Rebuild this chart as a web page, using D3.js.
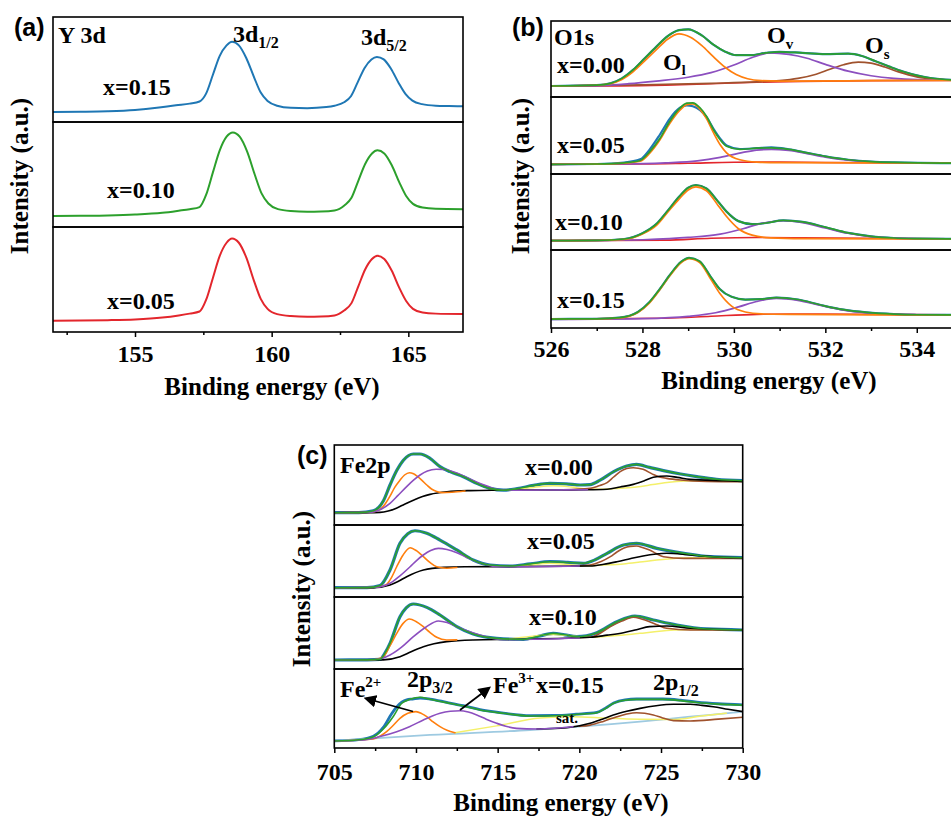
<!DOCTYPE html>
<html><head><meta charset="utf-8">
<script src="https://cdn.jsdelivr.net/npm/d3@7"></script>
<style>
body{margin:0;background:#fff}
svg{display:block}
text{font-family:"Liberation Serif","Times New Roman",serif;font-weight:bold;fill:#000}
.plab{font-family:"Liberation Sans",Arial,sans-serif}
</style>
</head><body>
<svg id="chart" width="951" height="818"></svg>
<script>
// ---------------- Panel (a): Y 3d ----------------
const aTicks = [155, 160, 165];
const aMinorTicks = [152.5, 157.5, 162.5];
const aDomain = [152, 167];
const aLabels = ["x=0.15", "x=0.10", "x=0.05"];
const aY015 = [[152,9.5],[153,9.8],[154,10.3],[155,11.5],[155.8,13.5],[156.5,16],[157.0,17.5],[157.36,19.5],[157.6,27],[157.85,45],[158.1,63],[158.35,73],[158.55,76.5],[158.8,73],[159.07,61],[159.35,43],[159.6,28],[159.85,20],[160.2,15.5],[160.7,13.5],[161.3,13.2],[162.0,14.2],[162.3,15.5],[162.65,18.8],[162.9,24.5],[163.15,38],[163.4,51.5],[163.65,59.6],[163.85,62],[164.1,59.6],[164.37,50.5],[164.65,37],[164.9,26.5],[165.15,20.3],[165.5,17],[166,15.5],[166.5,15.2],[167,15]];
const aY010 = [[152,10.5],[153,10.7],[154,11],[155,11.8],[156,13.5],[156.6,15.5],[157.0,17],[157.36,19],[157.6,30.5],[157.85,52],[158.1,73],[158.35,86],[158.58,90],[158.83,86],[159.1,72],[159.38,50],[159.63,32],[159.88,22.4],[160.23,17],[160.7,15.2],[161.3,14.6],[161.8,14.8],[162.3,15.8],[162.67,20.8],[162.92,27.8],[163.17,44],[163.42,60],[163.67,70],[163.87,73],[164.12,70],[164.39,59],[164.67,42.5],[164.92,29.5],[165.17,22],[165.52,18.5],[166,17.3],[167,17]];
const aY005 = [[152,10.8],[153,11],[154,11.3],[155,12],[156,13.8],[156.6,15.8],[157.0,17.5],[157.36,19.5],[157.6,30.5],[157.85,51.5],[158.1,72.5],[158.35,85],[158.55,89],[158.8,85],[159.07,71],[159.35,49],[159.6,31.5],[159.85,22],[160.2,17],[160.7,15.2],[161.3,14.6],[161.8,14.8],[162.3,15.8],[162.65,20.5],[162.92,27.5],[163.17,43.5],[163.42,59.5],[163.67,69.5],[163.87,72.7],[164.12,69.5],[164.39,58.5],[164.67,42],[164.92,29.5],[165.17,22],[165.52,18.5],[166,17.5],[167,17.1]];

// ---------------- Panel (b): O1s ----------------
const bTicks = [526, 528, 530, 532, 534];
const bMinorTicks = [527, 529, 531, 533];
const bDomain = [526, 535];
const bLabels = ["x=0.00", "x=0.05", "x=0.10", "x=0.15"];
const b000Base = [[526,14.5],[527.5,14.6],[528.5,15.5],[529.5,17.5],[530.5,19.5],[531.5,20.5],[533,21.5],[535,22]];
const b000OL = [[526,14.5],[527.05,15.8],[527.3,17.5],[527.55,23],[527.8,33.5],[528.05,47.5],[528.3,62],[528.55,76],[528.8,83],[529.05,78.5],[529.3,67.5],[529.55,53],[529.8,39.5],[530.05,29.5],[530.3,24],[530.6,21.5],[531,20.8],[533,21.5],[535,22]];
const b000OV = [[526,14.5],[527,15],[527.7,17.5],[528.3,21],[529,26],[529.5,32],[530,42],[530.4,52],[530.8,58],[531.2,56],[531.6,51],[532,43],[532.5,34],[533,28],[533.5,24.5],[534,23],[535,22.3]];
const b000OS = [[526,14.5],[528,16],[529.5,18],[530.5,19.8],[531,21.5],[531.4,24.5],[531.8,30],[532.1,36.5],[532.4,42.5],[532.72,46],[533,44.5],[533.3,39.5],[533.6,33],[534,26.5],[534.4,23.5],[535,22]];
const b000Env = [[526,14.5],[527,15.5],[527.3,18],[527.55,24.5],[527.8,36],[528.05,51],[528.3,66],[528.55,80],[528.8,88],[529.0,89],[529.3,81],[529.55,69],[529.8,60],[530.05,55],[530.35,55],[530.7,58],[531.0,59.5],[531.5,58],[532.0,56.5],[532.5,57],[532.8,54],[533.1,47],[533.4,40],[533.7,33.5],[534,28.5],[534.3,25],[534.75,22.5],[535,22]];
const b005Base = [[526,12.6],[528,13],[529,14],[530,15.2],[531,15.5],[532,15],[535,14]];
const b005OL = [[526,12.6],[527,12.8],[527.6,14],[527.95,16.5],[528.16,27],[528.38,44],[528.6,66],[528.82,83],[528.97,90],[529.1,91],[529.26,84],[529.4,72],[529.55,54],[529.7,38],[529.84,27.5],[530.13,18.5],[530.5,15.5],[531,14.8],[535,14]];
const b005OV = [[526,12.6],[527.5,13],[528.5,14.5],[529.2,17],[529.7,21.5],[530.2,28],[530.5,31],[530.82,32],[531.2,30.5],[531.6,26.5],[532,22],[532.5,18],[533,15.5],[533.5,14.5],[535,14]];
const b005Env = [[526,12.6],[527,13],[527.6,14.5],[527.95,17.5],[528.16,29],[528.38,46],[528.6,68.5],[528.82,85.5],[528.97,92],[529.1,92.5],[529.26,86],[529.4,75],[529.55,58],[529.7,44.5],[529.84,36],[530.13,32],[530.5,33.5],[530.82,34],[531.2,32],[531.6,27.5],[532,23],[532.5,18.5],[533,16],[533.5,15],[535,14]];
const b005Raw = [[526,12.6],[527,13],[527.6,14.8],[527.95,19],[528.16,32],[528.38,51],[528.6,72],[528.82,86],[528.97,89],[529.1,88],[529.26,83],[529.4,74],[529.55,59],[529.7,46],[529.84,37],[530.13,32.5],[530.5,33.5],[530.82,34.5],[531.2,32],[531.6,27.5],[532,23],[532.5,18.5],[533,16],[533.5,15],[535,14]];
const b010Base = [[526,12.3],[528.5,13],[529.5,15.5],[530.5,16.5],[531.5,16],[535,14.5]];
const b010OL = [[526,12.3],[527,12.5],[527.6,14],[528.0,21],[528.3,32],[528.53,48],[528.8,67],[529.0,79],[529.17,83],[529.4,78],[529.65,59],[529.84,44],[530.1,28],[530.4,19.5],[530.8,16],[531.5,15],[535,14.5]];
const b010OV = [[526,12],[527,12.5],[528,13.5],[529,16.5],[529.7,21],[530.2,28],[530.6,35],[531.08,38.5],[531.5,36],[532,29],[532.5,22],[533,17.5],[533.5,15.5],[534,14.8],[535,14.5]];
const b010Env = [[526,12.3],[527,12.7],[527.6,14.5],[528,22],[528.3,34],[528.53,50],[528.8,70],[529,82],[529.17,85.5],[529.4,81],[529.65,64],[529.84,50.5],[530.1,38],[530.4,34],[530.7,35.5],[531.08,39],[531.5,37],[532,30],[532.5,22.5],[533,18],[533.5,15.8],[534,15],[535,14.5]];
const b015Base = [[526,11.5],[528.5,12.5],[529.5,15],[530.5,17.5],[531.5,18],[535,16.7]];
const b015OL = [[526,11.5],[527,11.8],[527.5,13],[527.9,20],[528.15,32],[528.38,49],[528.6,67],[528.85,84],[529.02,89],[529.25,84],[529.5,62],[529.69,44.5],[529.95,28],[530.25,20.5],[530.6,18],[531.2,17.5],[535,16.7]];
const b015OV = [[526,11],[527,11.2],[528,12],[529,15],[529.6,19.5],[530.1,27],[530.5,34],[530.93,38],[531.4,35.5],[531.9,29],[532.4,23],[532.9,19.5],[533.5,17.5],[534,17],[535,16.7]];
const b015Env = [[526,11.5],[527,11.8],[527.5,13.2],[527.9,20.5],[528.15,33],[528.38,50],[528.6,68],[528.85,85],[529.02,90],[529.25,85.5],[529.5,65],[529.69,50],[529.95,40],[530.25,36.5],[530.6,37],[530.93,39],[531.4,36.5],[531.9,29.5],[532.4,23.5],[532.9,20],[533.5,17.8],[534,17],[535,16.7]];

// ---------------- Panel (c): Fe2p ----------------
const cTicks = [705, 710, 715, 720, 725, 730];
const cMinorTicks = [707.5, 712.5, 717.5, 722.5, 727.5];
const cDomain = [705, 730];
const cLabels = ["x=0.00", "x=0.05", "x=0.10", "x=0.15"];
const c000Env = [[705,15.4],[706.5,15.5],[707.39,17.9],[708.0,30],[708.41,50],[708.82,68],[709.23,81],[709.84,88.75],[710.25,88.75],[710.86,83.3],[711.47,73],[712.08,66.7],[712.9,60.4],[713.72,52],[714.53,45.8],[715.35,43.5],[716.2,45.5],[717.2,49.5],[718.2,52],[719.2,51.5],[720.05,50],[720.66,50.5],[721.27,56],[722.1,66.7],[722.9,73.75],[723.5,75.8],[724.3,72],[725.15,68],[726.2,63.75],[727.2,60.4],[728.4,57.1],[730,55.4]];
const c000OL = [[705,15.4],[707,15.6],[707.5,17],[707.8,19.5],[708.1,26],[708.41,36],[708.7,47],[709.02,56],[709.3,62.5],[709.6,65.4],[709.85,64],[710.05,61.3],[710.35,56],[710.66,50],[710.95,45],[711.27,42],[711.6,40.5],[712.2,41],[713,42.5]];
const c000OV = [[705,15.4],[707,15.6],[707.6,17.5],[708.41,27],[708.9,37],[709.43,48],[709.85,56],[710.25,62.5],[710.7,67.5],[711.23,69.6],[711.65,69.5],[712.08,67.9],[712.5,65],[712.9,61.25],[713.4,56.5],[713.92,52],[714.44,48],[714.94,44.6],[715.76,43.5],[718,43.8],[720.5,44]];
const c000Bg = [[705,15.4],[707,15.5],[707.8,15.8],[708.3,17.5],[708.8,21],[709.3,26],[709.84,31],[710.4,35.5],[710.86,38.3],[711.9,41.6],[713.3,43],[715,43.5],[718,43.8],[720.5,44],[721.7,44.6],[722.5,47.5],[723.3,50.8],[724,55.5],[724.53,59.6],[725.35,61.2],[726,59.5],[726.78,57],[728.8,55.4],[730,54.5]];
const c000Sat = [[714.5,43.5],[716,44.5],[717.2,47],[718.4,49],[719.5,47.5],[720.5,45],[721.5,44.8],[722.5,46],[723.5,47.5],[724.5,50.5],[725.5,53.5],[726.5,55],[727.5,55.5],[730,55]];
const c000P12 = [[719,44],[720.66,45.8],[721.2,49],[721.7,53],[722.1,60],[722.5,66.7],[722.9,70.5],[723.3,71.6],[723.9,69.6],[724.5,63.3],[724.9,60],[725.35,58.3],[726.2,56.25],[727.8,54.5],[730,54]];
const c005Env = [[705,12.9],[707,13],[707.8,16],[708.41,37.5],[709.02,74.6],[709.5,88],[709.94,92],[710.66,88.5],[711.47,79],[712.5,65.3],[713.5,51.4],[714.53,44.4],[715.76,43],[717,46],[718.2,49],[719.3,48],[720.25,46.8],[721.0,52],[721.7,60.7],[722.7,72.2],[723.5,74.6],[724.74,67.6],[726.4,60.7],[728,56],[730,54.6]];
const c005OL = [[705,12.9],[707.3,13.2],[707.8,14.5],[708.2,17.5],[708.5,27],[708.82,42],[709.2,58],[709.64,68.5],[710.05,64],[710.45,56],[710.85,48],[711.27,42],[711.88,40],[712.5,41]];
const c005OV = [[705,12.9],[707.5,13.5],[708.41,19],[709.0,29],[709.64,42],[710.05,51],[710.45,58.3],[710.9,64.5],[711.37,67.6],[711.9,66],[712.5,61.5],[713.1,55],[713.72,49],[714.3,45],[714.94,42],[716,42],[720,43]];
const c005Bg = [[705,12.9],[707.39,12.9],[708.41,16.7],[708.9,21.5],[709.43,28.2],[710.45,37.5],[711.68,41.2],[713,42],[716,42.2],[720.66,43],[721.5,45.5],[722.3,49],[723.1,53],[723.9,57],[725.35,60.7],[726.8,58.3],[728.8,55],[730,54.6]];
const c005Sat = [[715.76,42],[717,44.5],[718.2,46.8],[719.3,45],[720.25,43.5],[721.5,44.5],[722.7,46],[723.7,48.5],[724.74,51.4],[725.8,53.5],[726.8,54.6],[730,54.6]];
const c005P12 = [[719.5,43],[720.66,44.4],[721.3,49],[721.9,56],[722.3,62.5],[722.7,67.6],[723.1,70.3],[723.5,70.8],[723.9,68.5],[724.3,65.3],[724.7,60.5],[725.15,56],[726.4,53.7],[730,53.7]];
const c010Env = [[705,12.5],[707,12.7],[707.8,13.4],[708.1,22],[708.41,35.6],[709.02,72.6],[709.4,85],[709.84,90.3],[710.66,85.6],[711.47,75],[712.5,58.8],[713.5,48.6],[714.94,42.6],[716.57,41.2],[717.5,45.5],[718.4,49.5],[719.1,47.5],[719.84,44.9],[721.07,50.4],[722.3,65.7],[723.4,73.6],[724.53,68],[725.97,61.1],[727.8,55.6],[730,54.2]];
const c010OL = [[705,12.5],[707.3,12.7],[707.6,13.5],[708,17.1],[708.4,32],[708.82,49.5],[709.2,63],[709.6,69.4],[710.0,66],[710.45,58.8],[710.85,51],[711.27,44],[711.88,40.3],[712.5,40.5]];
const c010OV = [[705,12.5],[707.5,13],[708.41,19.4],[709.1,30],[709.84,44.9],[710.6,58],[711.37,66.7],[711.9,64.5],[712.5,58.8],[713.2,52.5],[713.92,47.2],[714.5,43.5],[715.15,41.2],[716,41],[720,43]];
const c010Bg = [[705,12.5],[707.5,12.5],[708,12.7],[709.02,17.1],[709.7,24],[710.45,31],[711.1,35],[711.88,38],[713.5,40.3],[716,41.2],[720.66,44],[721.7,47],[722.7,50.4],[723.5,54.5],[724.3,58.8],[725.35,59.7],[726.8,56.5],[730,54.2]];
const c010Sat = [[715.56,41],[717,45],[718.4,48],[719.5,46],[720.66,44],[721.7,45.5],[722.7,47.2],[723.7,49.5],[724.74,52],[725.8,54],[726.8,55],[730,54.2]];
const c010P12 = [[719.5,43.5],[720.66,44],[721.3,50],[721.9,58.8],[722.6,66.5],[723.3,71.8],[723.8,69.5],[724.3,65.7],[724.8,61],[725.35,56.5],[726.8,54.2],[730,54.2]];
const c015Line = [[705,9],[710.86,16.5],[716.98,22.8],[723.72,33.3],[726.78,39.6],[729.4,44.7],[730,46]];
const c015Env = [[705,8.9],[706.5,10.5],[707.39,14.3],[708.0,24],[708.6,39.6],[709.13,56.6],[709.64,61.6],[710.25,64.2],[710.86,61.6],[711.88,57.4],[712.9,53.2],[713.92,48.1],[715.35,43.9],[716.98,40.5],[718.5,40.8],[719.8,42.5],[721.07,44.7],[721.6,50],[722.1,56.6],[722.8,60.5],[723.5,61.6],[725.1,61.6],[726.2,60],[727.2,57.5],[728.5,55.5],[729.8,54.4],[730,54.2]];
const c015Raw = [[705,8.9],[706.5,10.5],[707.39,14.8],[708.0,26],[708.5,43],[708.82,52],[709.13,58],[709.43,61],[709.8,62],[710.25,63.2],[710.86,62],[711.88,57.8],[712.9,53.5],[713.92,48.5],[715.35,44.2],[716.98,41],[718.5,41.2],[719.8,42.8],[721.07,45],[721.6,50.5],[722.1,57],[722.8,61],[723.5,62],[725.1,62],[726.2,60.5],[727.2,58],[728.5,56],[729.8,55],[730,54.6]];
const c015OL = [[705,9],[706.8,10.5],[707.39,11.5],[707.8,15],[708.2,20.7],[708.6,28.5],[709.02,37.6],[709.5,44],[710.0,46],[710.35,43.5],[710.66,39.6],[711.05,33],[711.47,27],[711.9,22.5],[712.39,19.4]];
const c015OV = [[705,9],[706.78,10.1],[707.8,14.5],[708.82,20.7],[709.6,27],[710.45,35.4],[711.0,40.5],[711.47,43.9],[712.1,46.5],[712.7,47.2],[713.2,45.5],[713.72,41.8],[714.3,36.5],[714.94,31.3],[715.5,27.5],[716.17,24.9],[717.4,24],[718.5,25],[719.6,27]];
const c015Sat = [[712.39,19.4],[714.94,28],[717.6,38],[719.64,39.6],[721.7,37.6],[723.72,36.3],[725.76,36],[727.5,40.5],[729,44]];
const c015P12a = [[717.4,24],[719.23,25.7],[720.66,31.2],[721.4,36.5],[722.08,41.8],[722.9,46.5],[723.72,50.2],[724.7,53.5],[725.76,55.3],[726.78,55.3],[727.5,54],[728.2,52.3],[729.1,49],[730,46]];
const c015P12b = [[720,27.5],[720.66,29],[721.5,34],[722.3,39.6],[722.9,43],[723.5,44.7],[724.0,44],[724.53,41.8],[725.1,38],[725.76,34.6],[726.78,34.2],[728.5,36.5],[730,38.9]];

// ---------------- colours ----------------
const COL = {blue:"#1f77b4", orange:"#ff7f0e", green:"#2ca02c", red:"#e3262c", purple:"#8c4fbf",
             brown:"#a0522d", yellow:"#f4f06a", lblue:"#9ecae1", black:"#000"};
const SERIF = '"Liberation Serif","Times New Roman",serif';

const svg = d3.select("#chart");
const defs = svg.append("defs");
defs.append("marker").attr("id","arr").attr("viewBox","0 0 10 10").attr("refX",8).attr("refY",5)
  .attr("markerWidth",7).attr("markerHeight",7).attr("orient","auto-start-reverse")
  .append("path").attr("d","M0,0 L10,5 L0,10 z").attr("fill","#000");

function drawPanel(p) {
  const x = d3.scaleLinear().domain(p.domain).range([p.left, p.right]);
  const g = svg.append("g");
  p.subs.forEach((sub, i) => {
    const top = p.edges[i], bot = p.edges[i + 1];
    const y = d3.scaleLinear().domain([0, 100]).range([bot, top]);
    const id = p.id + "clip" + i;
    defs.append("clipPath").attr("id", id).append("rect")
      .attr("x", p.left).attr("y", top).attr("width", p.right - p.left).attr("height", bot - top);
    const gg = g.append("g").attr("clip-path", `url(#${id})`);
    const line = d3.line().x(d => x(d[0])).y(d => y(d[1])).curve(d3.curveMonotoneX);
    sub.forEach(c => {
      gg.append("path").attr("d", line(c.data)).attr("fill", "none")
        .attr("stroke", c.color).attr("stroke-width", c.w || 1.7)
        .attr("stroke-linejoin", "round").attr("stroke-linecap", "round");
    });
    g.append("rect").attr("x", p.left).attr("y", top).attr("width", p.right - p.left).attr("height", bot - top)
      .attr("fill", "none").attr("stroke", "#000").attr("stroke-width", 1.6);
  });
  const bottom = p.edges[p.edges.length - 1];
  const ax = g.append("g").attr("transform", `translate(0,${bottom})`)
    .call(d3.axisBottom(x).tickValues(p.ticks).tickSize(5).tickPadding(p.pad).tickFormat(d3.format("d")));
  ax.select(".domain").remove();
  ax.attr("font-family", SERIF).attr("font-size", 24).attr("font-weight", "bold");
  ax.selectAll("line").attr("stroke-width", 1.5);
  ax.selectAll("text").attr("font-size", 24).attr("font-family", SERIF).attr("font-weight", "bold")
    .style("font-family", SERIF);
  const mx = g.append("g").attr("transform", `translate(0,${bottom})`)
    .call(d3.axisBottom(x).tickValues(p.minor).tickSize(3).tickFormat(""));
  mx.select(".domain").remove();
  mx.selectAll("line").attr("stroke-width", 1.5);
  return x;
}

// text helpers
function txt(x, y, s, size, cls) {
  const t = svg.append("text").attr("x", x).attr("y", y).attr("font-size", size).text(s);
  if (cls) t.attr("class", cls);
  return t;
}
function subTxt(x, y, main, sub, size, subSize, dy, sup) {
  const t = svg.append("text").attr("x", x).attr("y", y).attr("font-size", size);
  t.append("tspan").text(main);
  t.append("tspan").attr("font-size", subSize).attr("dy", sup ? -dy : dy).text(sub);
  return t;
}
function yTitle(x, cy) {
  svg.append("text").attr("transform", `translate(${x},${cy}) rotate(-90)`)
    .attr("text-anchor", "middle").attr("font-size", 25).text("Intensity (a.u.)");
}
function xTitle(cx, y) {
  svg.append("text").attr("x", cx).attr("y", y).attr("text-anchor", "middle").attr("font-size", 25).text("Binding energy (eV)");
}

// ---------- panel a ----------
drawPanel({id:"a", domain:aDomain, left:53, right:463, edges:[17,122,227,332], ticks:aTicks, minor:aMinorTicks, pad:7.5,
  subs:[[{data:aY015,color:COL.blue,w:2}],[{data:aY010,color:COL.green,w:2}],[{data:aY005,color:COL.red,w:2}]]});
txt(14, 36, "(a)", 25, "plab");
txt(58, 43, "Y 3d", 24);
subTxt(233, 42, "3d", "1/2", 24, 16, 6);
subTxt(361, 45, "3d", "5/2", 24, 16, 6);
txt(103, 95, aLabels[0], 24);
txt(107, 198, aLabels[1], 24);
txt(107, 309, aLabels[2], 24);
yTitle(28, 176);
xTitle(272, 395);

// ---------- panel b ----------
function bSub(env, raw, base, ol, ov, os) {
  const arr = [{data:raw, color:COL.blue, w:2.2}, {data:base, color:COL.red, w:1.6}];
  if (os) arr.push({data:os, color:COL.brown, w:1.7});
  arr.push({data:ov, color:COL.purple, w:1.7}, {data:ol, color:COL.orange, w:1.7}, {data:env, color:COL.green, w:1.7});
  return arr;
}
drawPanel({id:"b", domain:bDomain, left:551, right:962.5, edges:[21,97,174,250,328], ticks:bTicks, minor:bMinorTicks, pad:7,
  subs:[bSub(b000Env,b000Env,b000Base,b000OL,b000OV,b000OS),
        bSub(b005Env,b005Raw,b005Base,b005OL,b005OV),
        bSub(b010Env,b010Env,b010Base,b010OL,b010OV),
        bSub(b015Env,b015Env,b015Base,b015OL,b015OV)]});
txt(512, 36, "(b)", 25, "plab");
txt(554, 45, "O1s", 24);
subTxt(663, 70, "O", "l", 24, 14, 5);
subTxt(767, 43, "O", "v", 24, 15, 6);
subTxt(865, 53, "O", "s", 24, 15, 6);
txt(557, 72.5, bLabels[0], 24);
txt(557, 153, bLabels[1], 24);
txt(555, 230, bLabels[2], 24);
txt(557, 308, bLabels[3], 24);
yTitle(528.5, 176);
xTitle(769, 389);

// ---------- panel c ----------
function cSub(env, raw, bg, ol, ov, sat, p12) {
  return [{data:raw, color:COL.blue, w:3.2}, {data:sat, color:COL.yellow, w:1.5},
          {data:p12, color:COL.brown, w:1.6}, {data:bg, color:COL.black, w:1.6},
          {data:ol, color:COL.orange, w:1.6}, {data:ov, color:COL.purple, w:1.6}, {data:env, color:COL.green, w:1.6}];
}
const c4 = [{data:c015Raw, color:COL.blue, w:2.8}, {data:c015Line, color:COL.lblue, w:1.8},
            {data:c015Sat, color:COL.yellow, w:1.5}, {data:c015P12b, color:COL.brown, w:1.6},
            {data:c015P12a, color:COL.black, w:1.6}, {data:c015OL, color:COL.orange, w:1.6},
            {data:c015OV, color:COL.purple, w:1.6}, {data:c015Env, color:COL.green, w:1.6}];
drawPanel({id:"c", domain:cDomain, left:334.3, right:742.7, edges:[445,525,597,669,748], ticks:cTicks, minor:cMinorTicks, pad:10,
  subs:[cSub(c000Env,c000Env,c000Bg,c000OL,c000OV,c000Sat,c000P12),
        cSub(c005Env,c005Env,c005Bg,c005OL,c005OV,c005Sat,c005P12),
        cSub(c010Env,c010Env,c010Bg,c010OL,c010OV,c010Sat,c010P12),
        c4]});
txt(297, 464, "(c)", 25, "plab");
txt(340, 473, "Fe2p", 24);
txt(525, 475, cLabels[0], 24);
txt(527, 549, cLabels[1], 24);
txt(529, 625, cLabels[2], 24);
subTxt(340, 697, "Fe", "2+", 24, 15, 10, true);
subTxt(407, 687, "2p", "3/2", 24, 16, 6);
subTxt(493, 693, "Fe", "3+", 24, 15, 10, true);
txt(536, 693, cLabels[3], 24);
subTxt(653, 690, "2p", "1/2", 24, 16, 6);
txt(556, 723, "sat.", 15);
svg.append("line").attr("x1", 413).attr("y1", 711.5).attr("x2", 366).attr("y2", 698.5)
  .attr("stroke", "#000").attr("stroke-width", 1.8).attr("marker-end", "url(#arr)");
svg.append("line").attr("x1", 460).attr("y1", 710).attr("x2", 489).attr("y2", 688)
  .attr("stroke", "#000").attr("stroke-width", 1.8).attr("marker-end", "url(#arr)");
yTitle(309.5, 589);
xTitle(561, 811);
</script>
</body></html>
